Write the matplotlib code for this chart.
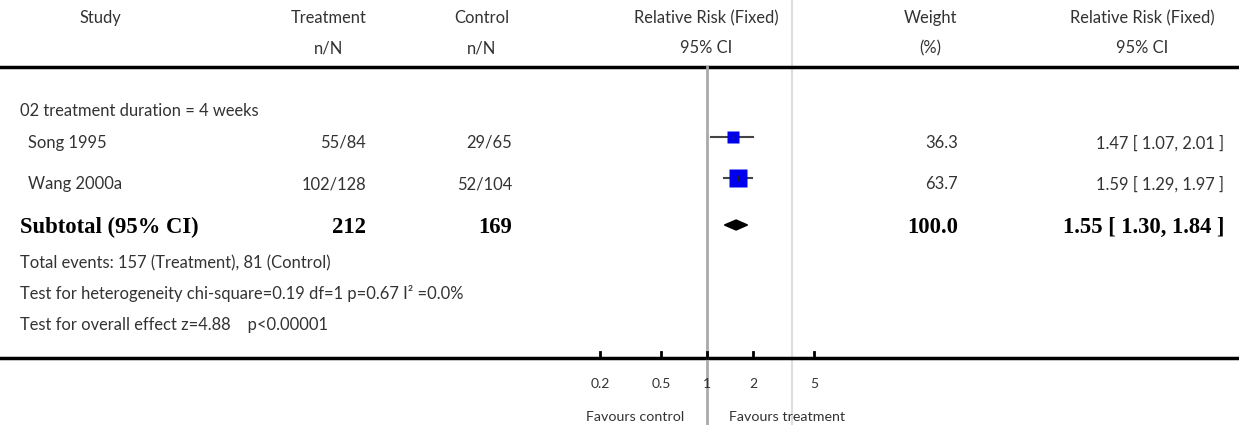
import matplotlib
matplotlib.use("Agg")
import matplotlib.pyplot as plt
import numpy as np

# data
studies = ["Song 1995", "Wang 2000a"]
treat_nN = ["55/84", "102/128"]
ctrl_nN = ["29/65", "52/104"]
rr = [1.47, 1.59]
ci_lo = [1.07, 1.29]
ci_hi = [2.01, 1.97]
weights = [36.3, 63.7]

sub_treat = "212"
sub_ctrl = "169"
sub_rr = 1.55
sub_lo = 1.30
sub_hi = 1.84
sub_weight = "100.0"

ticks = [0.2, 0.5, 1, 2, 5]
tick_labels = ["0.2", "0.5", "1", "2", "5"]

group_title = "02 treatment duration = 4 weeks"
footer_lines = [
    "Total events: 157 (Treatment), 81 (Control)",
    "Test for heterogeneity chi-square=0.19 df=1 p=0.67 I\u00b2 =0.0%",
    "Test for overall effect z=4.88    p<0.00001",
]

W, H = 1239, 425
SANS = ["Lato", "DejaVu Sans"]
SERIF = ["Liberation Serif", "DejaVu Serif"]
TXT = "#333333"
FS = 11.9

fig = plt.figure(figsize=(W / 100, H / 100), dpi=100)
ax = fig.add_axes([0, 0, 1, 1])
ax.set_xlim(0, W)
ax.set_ylim(H, 0)
ax.axis("off")

# forest axis: log scale, 1 sits at x=707, 153 px per decade
fax = fig.add_axes([0, 0, 1, 1], sharey=ax)
fax.set_xscale("log")
fax.set_xlim(10 ** (-707 / 153), 10 ** ((W - 707) / 153))
fax.patch.set_alpha(0)
fax.axis("off")


def t(x, y, s, ha="left", **kw):
    kw.setdefault("family", SANS)
    kw.setdefault("fontsize", FS)
    kw.setdefault("color", TXT)
    ax.text(x, y, s, ha=ha, va="center", **kw)


# header
heads = [(100, "Study", ""), (329, "Treatment", "n/N"), (482, "Control", "n/N"),
         (706, "Relative Risk (Fixed)", "95% CI"), (930, "Weight", "(%)"),
         (1142, "Relative Risk (Fixed)", "95% CI")]
for x, a, b in heads:
    t(x, 18, a, ha="center")
    if b:
        t(x, 48, b, ha="center")

# reference lines
ax.axvline(792, color="#dddddd", lw=1.5, zorder=0)
fax.plot([1, 1], [67, H], color="#aaaaaa", lw=2, zorder=0)
ax.plot([0, W], [67, 67], color="black", lw=2.5)
ax.plot([0, W], [358, 358], color="black", lw=2.5)

t(20, 111, group_title)

row_y = [143, 184]
for i, name in enumerate(studies):
    y = row_y[i]
    t(28, y, name)
    t(366, y, treat_nN[i], ha="right")
    t(512, y, ctrl_nN[i], ha="right")
    t(958, y, "%.1f" % weights[i], ha="right")
    t(1224, y, "%.2f [ %.2f, %.2f ]" % (rr[i], ci_lo[i], ci_hi[i]), ha="right")
    yc = y - 6
    fax.plot([ci_lo[i], ci_hi[i]], [yc, yc], color="#444444", lw=1.5, zorder=2)
    side = 2.14 * np.sqrt(weights[i]) * 0.72
    fax.plot([rr[i]], [yc], marker="s", ms=side, color="#0000ee", mec="none", zorder=3)
    fax.plot([rr[i], rr[i]], [yc - 2, yc + 2], color="#222222", lw=1, zorder=4)

# subtotal
ys = 227
bold = dict(family=SERIF, fontsize=16.3, weight="bold", color="black")
t(20, ys, "Subtotal (95% CI)", **bold)
t(366, ys, sub_treat, ha="right", **bold)
t(512, ys, sub_ctrl, ha="right", **bold)
t(958, ys, sub_weight, ha="right", **bold)
t(1224, ys, "%.2f [ %.2f, %.2f ]" % (sub_rr, sub_lo, sub_hi), ha="right", **bold)
yd = ys - 2
fax.fill([sub_lo, sub_rr, sub_hi, sub_rr], [yd, yd - 5, yd, yd + 5], color="black", zorder=3)

for y, s in zip([263, 294, 325], footer_lines):
    t(20, y, s)

# axis ticks
for v, lab in zip(ticks, tick_labels):
    fax.plot([v, v], [352, 358], color="black", lw=2)
    fax.text(v, 384, lab, ha="center", va="center", family=SANS, fontsize=10, color=TXT)
fax.text(0.71, 417, "Favours control", ha="right", va="center", family=SANS, fontsize=10.3, color=TXT)
fax.text(1.39, 417, "Favours treatment", ha="left", va="center", family=SANS, fontsize=10.3, color=TXT)

fig.savefig("out.png", dpi=100)
